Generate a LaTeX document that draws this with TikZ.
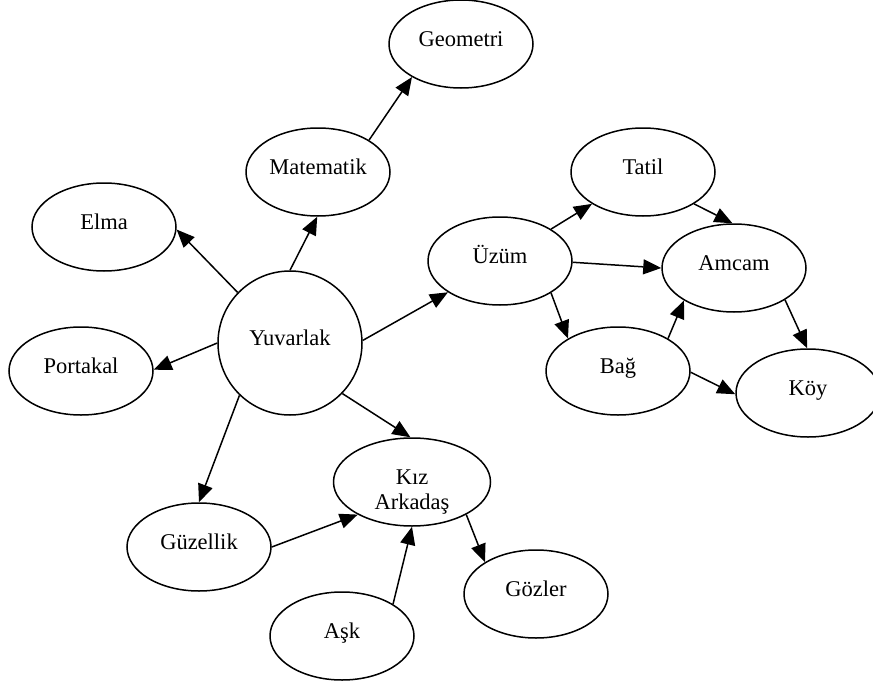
\documentclass[tikz,border=0pt]{standalone}
\usepackage{fontspec}
\setmainfont{Liberation Serif}
\usetikzlibrary{shapes.geometric,arrows.meta}
\tikzset{
  oval/.style={ellipse, draw, line width=1.5pt, minimum width=144pt, minimum height=88pt, inner sep=0pt,
    font=\fontsize{22.5}{25}\selectfont, text height=15pt, text depth=10pt},
  ring/.style={circle, draw, line width=1.5pt, minimum size=144pt, inner sep=0pt,
    font=\fontsize{22.5}{25}\selectfont, text height=15pt, text depth=10pt},
  conn/.style={line width=1.5pt, -{Triangle[length=18pt,width=15pt]}}
}
\begin{document}
\begin{tikzpicture}[x=1pt,y=-1pt]
\useasboundingbox (0,0) rectangle (873,688);
\node[oval] (geo) at (461,44) {Geometri};
\node[oval] (mat) at (318,172) {Matematik};
\node[oval] (elma) at (104,227) {Elma};
\node[ring] (yuv) at (290,343) {Yuvarlak};
\node[oval] (port) at (81,371) {Portakal};
\node[oval] (uzum) at (500,261) {Üzüm};
\node[oval] (tatil) at (643,172) {Tatil};
\node[oval] (amcam) at (734,268) {Amcam};
\node[oval] (bag) at (618,371) {Bağ};
\node[oval] (koy) at (808,393) {Köy};
\node[oval, minimum width=157pt, text height=, text depth=] (kiz) at (412,482)
  {\raisebox{-15.6pt}[0pt][0pt]{\begin{tabular}{@{}c@{}}Kız\\Arkadaş\end{tabular}}};
\node[oval] (guz) at (199,547) {Güzellik};
\node[oval] (goz) at (536,594) {Gözler};
\node[oval] (ask) at (342,636) {Aşk};

\draw[conn] (yuv.136) -- (elma.-2);
\draw[conn] (yuv.90) -- (mat.-91);
\draw[conn] (mat.32) -- (geo.-146);
\draw[conn] (yuv.180) -- (port.1);
\draw[conn] (yuv.2) -- (uzum.211);
\draw[conn] (yuv.-44) -- (kiz.92);
\draw[conn] (yuv.-134) -- (guz.90);
\draw[conn] (uzum.32) -- (tatil.-148);
\draw[conn] (uzum.-1) -- (amcam.180);
\draw[conn] (uzum.-32) -- (bag.147);
\draw[conn] (tatil.-32) -- (amcam.92);
\draw[conn] (bag.33) -- (amcam.213);
\draw[conn] (bag.-1) -- (koy.181);
\draw[conn] (amcam.-32) -- (koy.91);
\draw[conn] (guz.0) -- (kiz.211);
\draw[conn] (ask.32) -- (kiz.-90);
\draw[conn] (kiz.-31) -- (goz.148);
\end{tikzpicture}
\end{document}
